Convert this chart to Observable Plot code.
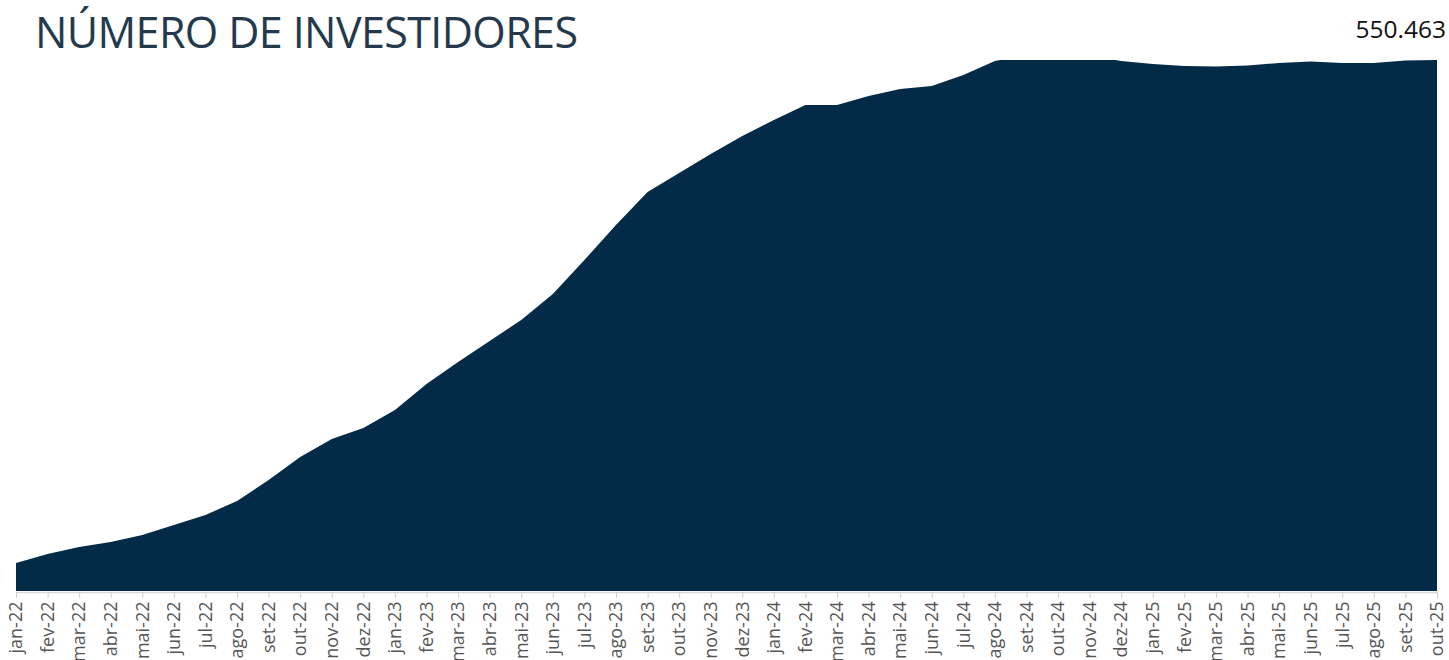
<!DOCTYPE html>
<html>
<head>
<meta charset="utf-8">
<script src="https://cdn.jsdelivr.net/npm/d3@7"></script>
<script src="https://cdn.jsdelivr.net/npm/@observablehq/plot@0.6"></script>
<style>
  body { margin: 0; background: #fff; width: 1449px; height: 660px; overflow: hidden; position: relative; }
  #title { position: absolute; left: 35px; top: 2px; font-family: "Open Sans", sans-serif; font-size: 43px; color: #243a4c; letter-spacing: -0.6px; white-space: nowrap; }
  #total { position: absolute; right: 3px; top: 12px; font-family: "Open Sans", sans-serif; font-size: 24.5px; color: #111; }
  #chart { position: absolute; left: 0; top: 0; }
</style>
</head>
<body>
<div id="chart"></div>
<div id="title">NÚMERO DE INVESTIDORES</div>
<div id="total">550.463</div>
<script>
const months = ["jan-22","fev-22","mar-22","abr-22","mai-22","jun-22","jul-22","ago-22","set-22","out-22","nov-22","dez-22",
  "jan-23","fev-23","mar-23","abr-23","mai-23","jun-23","jul-23","ago-23","set-23","out-23","nov-23","dez-23",
  "jan-24","fev-24","mar-24","abr-24","mai-24","jun-24","jul-24","ago-24","set-24","out-24","nov-24","dez-24",
  "jan-25","fev-25","mar-25","abr-25","mai-25","jun-25","jul-25","ago-25","set-25","out-25"];
const investors = [29000, 38400, 45600, 50800, 58100, 68400, 78800, 93300, 115100, 138900, 157600, 169000,
  187600, 214600, 237400, 259200, 280900, 307900, 343100, 379400, 413600, 433300, 453000, 471700,
  488300, 503800, 503800, 513200, 520400, 523500, 534900, 549400, 556000, 557000, 555000, 549400,
  546300, 544300, 543700, 544800, 547400, 548900, 547400, 547400, 550000, 550463];
const yMax = 550463;

const data = months.map((m, i) => ({i, month: m, value: investors[i]}));

const chart = Plot.plot({
  width: 1449,
  height: 660,
  marginLeft: 16,
  marginRight: 12,
  marginTop: 60,
  marginBottom: 69,
  style: {background: "transparent"},
  x: {type: "linear", domain: [0, months.length - 1], label: null},
  y: {domain: [0, yMax], axis: null},
  marks: [
    Plot.areaY(data, {x: "i", y: "value", fill: "#032a46", curve: "linear", clip: true}),
    Plot.ruleY([0], {stroke: "#d9d9d9", strokeWidth: 1.5, dy: 1}),
    Plot.axisX({ticks: d3.range(months.length), tickFormat: (d) => months[d], tickRotate: -90,
      tickSize: 6, tickPadding: 3, fontSize: 18, stroke: "#d0d0d0", color: "#555",
      fontFamily: "Open Sans", dy: 1, label: null})
  ]
});
document.getElementById("chart").appendChild(chart);
</script>
</body>
</html>
